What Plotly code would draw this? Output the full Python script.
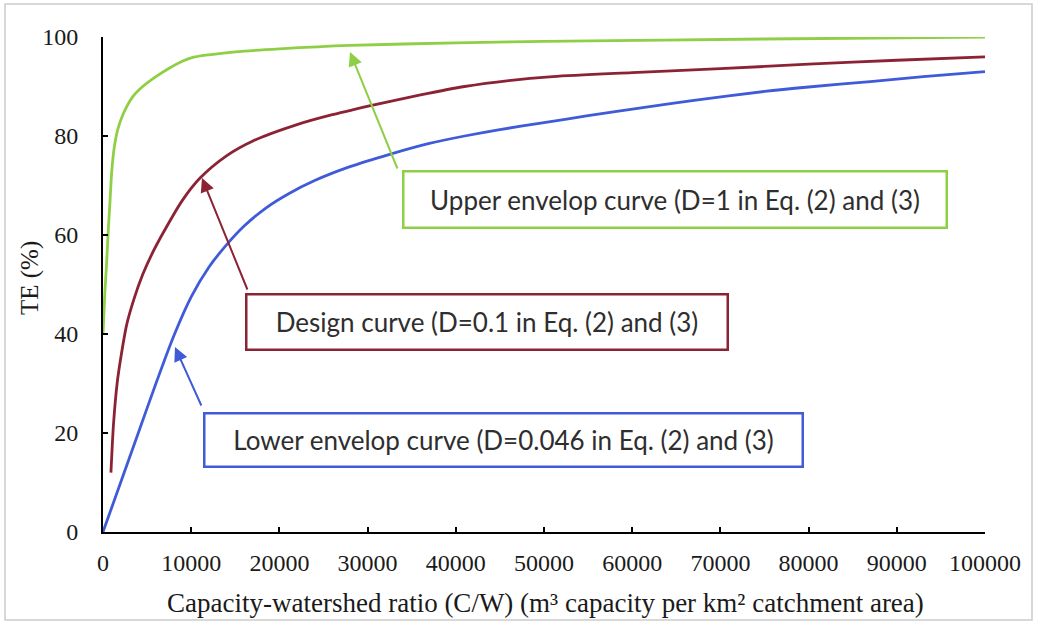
import plotly.graph_objects as go

# ---- data ----
upper_x = [0, 200, 400, 600, 800, 1000, 1300, 1700, 2300, 3400, 4500, 6000, 7500, 9000,
           10000, 12000, 15000, 20000, 28000, 40000, 50000, 75000, 100000]
upper_y = [40, 48, 54, 61, 67, 73, 78, 81.5, 84.5, 88, 90, 92, 93.7, 95.1,
           95.8, 96.4, 97, 97.6, 98.3, 98.8, 99.1, 99.6, 100]

design_x = [900, 1200, 1600, 2000, 2700, 3500, 4500, 5500, 7000, 9000, 11000, 14000, 17000,
            22000, 26000, 31000, 36000, 41000, 46000, 51000, 60000, 70000, 80000, 90000, 100000]
design_y = [12, 22, 30, 35, 42, 47, 52, 56, 61, 67, 71.5, 76, 79,
            82.3, 84.3, 86.4, 88.3, 90, 91.2, 92, 92.8, 93.6, 94.5, 95.3, 96]

lower_x = [0, 2000, 4000, 6000, 8000, 10000, 12000, 14000, 16000, 18500, 21000, 24000, 28000,
           32500, 37000, 41000, 45000, 50000, 55000, 61000, 67000, 75000, 80000, 87000, 93000, 100000]
lower_y = [0, 10, 20, 30, 39.5, 47.5, 53.5, 58, 61.8, 65.5, 68.3, 71, 73.8,
           76.3, 78.5, 80, 81.3, 82.7, 84.1, 85.7, 87.2, 89, 89.9, 91, 92, 93]

x_ticks = [0, 10000, 20000, 30000, 40000, 50000, 60000, 70000, 80000, 90000, 100000]
y_ticks = [0, 20, 40, 60, 80, 100]

labels = ["Upper envelop curve (D=1 in Eq. (2) and (3)",
          "Design curve (D=0.1 in Eq. (2) and (3)",
          "Lower envelop curve (D=0.046 in Eq. (2) and (3)"]

GREEN = "#8FCF45"
RED = "#8C2334"
BLUE = "#3F5BD8"

W, H = 1037, 625
L, R, T, B = 103, 52, 37, 93
PW, PH = W - L - R, H - T - B


def px(xp):
    return (xp - L) / PW


def py(yp):
    return (H - B - yp) / PH


fig = go.Figure()
fig.add_trace(go.Scatter(x=upper_x, y=upper_y, mode="lines",
                         line=dict(color=GREEN, width=2.8, shape="spline", smoothing=0.8)))
fig.add_trace(go.Scatter(x=design_x, y=design_y, mode="lines",
                         line=dict(color=RED, width=2.8, shape="spline", smoothing=0.8)))
fig.add_trace(go.Scatter(x=lower_x, y=lower_y, mode="lines",
                         line=dict(color=BLUE, width=2.8, shape="spline", smoothing=0.8)))

serif = "Liberation Serif, Times New Roman, serif"
sans = "Lato, Open Sans, sans-serif"

annotations = []
# arrows
for (tx, ty, ax, ay, col) in [(350, 52, 48, 118, GREEN), (202, 178, 46, 113, RED), (175, 347, 27, 60, BLUE)]:
    annotations.append(dict(xref="paper", yref="paper", x=px(tx), y=py(ty), ax=ax, ay=ay,
                            showarrow=True, arrowhead=2, arrowsize=1.4, arrowwidth=2,
                            arrowcolor=col, text=""))
# boxes
for (cx, cy, bw, bh, col, txt) in [(674.5, 199, 545, 58, GREEN, labels[0]),
                                   (486.5, 321.5, 483, 57, RED, labels[1]),
                                   (503, 439.5, 600, 55, BLUE, labels[2])]:
    annotations.append(dict(xref="paper", yref="paper", x=px(cx), y=py(cy),
                            xanchor="center", yanchor="middle", showarrow=False,
                            text=txt, width=bw - 4, height=bh - 4, borderpad=0,
                            bordercolor=col, borderwidth=2.5, bgcolor="white",
                            font=dict(family=sans, size=26, color="#2e2e2e")))
# axis titles
annotations.append(dict(xref="paper", yref="paper", x=px(545), y=py(603), xanchor="center",
                        yanchor="middle", showarrow=False,
                        text="Capacity-watershed ratio (C/W) (m³ capacity per km² catchment area)",
                        font=dict(family=serif, size=27, color="#1a1a1a")))
annotations.append(dict(xref="paper", yref="paper", x=px(30), y=py(278), xanchor="center",
                        yanchor="middle", showarrow=False, textangle=-90, text="TE (%)",
                        font=dict(family=serif, size=25, color="#1a1a1a")))

fig.update_layout(
    width=W, height=H,
    margin=dict(l=L, r=R, t=T, b=B),
    paper_bgcolor="white", plot_bgcolor="white",
    showlegend=False,
    annotations=annotations,
    shapes=[dict(type="rect", xref="paper", yref="paper", x0=px(5), x1=px(1032),
                 y0=py(620), y1=py(4), line=dict(color="#cccccc", width=1.5))],
    xaxis=dict(range=[0, 100000], tickvals=x_ticks, ticktext=[str(v) for v in x_ticks],
               showgrid=False, zeroline=False, showline=True, linecolor="black", linewidth=2,
               ticks="inside", ticklen=5, tickwidth=2, tickcolor="black",
               ticklabelstandoff=8,
               tickfont=dict(family=serif, size=24, color="#1a1a1a")),
    yaxis=dict(range=[0, 100], tickvals=y_ticks, showgrid=False, zeroline=False,
               showline=True, linecolor="black", linewidth=2,
               ticks="inside", ticklen=5, tickwidth=2, tickcolor="black",
               ticklabelstandoff=18,
               tickfont=dict(family=serif, size=24, color="#1a1a1a")),
)

fig.write_html("out.html")
